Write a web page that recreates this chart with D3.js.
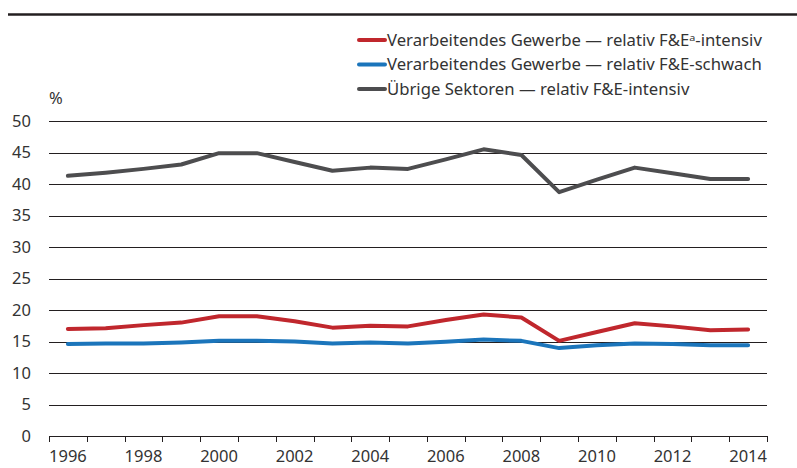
<!DOCTYPE html>
<html>
<head>
<meta charset="utf-8">
<script src="https://cdn.jsdelivr.net/npm/d3@7"></script>
<style>
  body { margin: 0; background: #fff; }
  svg { display: block; font-family: "Source Sans Pro", "Noto Sans", sans-serif; }
</style>
</head>
<body>
<svg id="chart" width="797" height="468"></svg>
<script>
const years = d3.range(1996, 2015);
const yTicks = [0, 5, 10, 15, 20, 25, 30, 35, 40, 45, 50];
const xLabels = [1996, 1998, 2000, 2002, 2004, 2006, 2008, 2010, 2012, 2014];

const seriesNames = [
  "Verarbeitendes Gewerbe — relativ F&Eᵃ-intensiv",
  "Verarbeitendes Gewerbe — relativ F&E-schwach",
  "Übrige Sektoren — relativ F&E-intensiv"
];
const redValues = [17.0, 17.1, 17.6, 18.0, 19.0, 19.0, 18.2, 17.2, 17.5, 17.4, 18.4, 19.3, 18.8, 15.1, 16.5, 17.9, 17.4, 16.8, 16.9];
const blueValues = [14.6, 14.7, 14.7, 14.85, 15.1, 15.1, 15.0, 14.7, 14.85, 14.7, 14.95, 15.3, 15.1, 13.95, 14.4, 14.7, 14.6, 14.4, 14.4];
const greyValues = [41.3, 41.8, 42.4, 43.1, 44.9, 44.9, 43.5, 42.1, 42.6, 42.4, 43.9, 45.5, 44.6, 38.7, 40.7, 42.6, 41.7, 40.8, 40.8];
const colors = ["#c0272d", "#1b75bb", "#4d4d4f"];

const svg = d3.select("#chart");
const plotLeft = 49, plotRight = 767, plotTop = 121, plotBottom = 436;

// top rule
svg.append("line")
  .attr("x1", 8).attr("x2", 797)
  .attr("y1", 14.5).attr("y2", 14.5)
  .attr("stroke", "#231f20").attr("stroke-width", 2.5);

const x = d3.scaleBand().domain(years).range([plotLeft, plotRight]);
const y = d3.scaleLinear().domain([0, 50]).range([plotBottom, plotTop]);

// gridlines
svg.append("g")
  .selectAll("line")
  .data(yTicks.filter(d => d > 0))
  .join("line")
  .attr("x1", plotLeft).attr("x2", plotRight)
  .attr("y1", d => Math.round(y(d)) + 0.5)
  .attr("y2", d => Math.round(y(d)) + 0.5)
  .attr("stroke", "#231f20").attr("stroke-width", 1);

// y labels
svg.append("g")
  .selectAll("text")
  .data(yTicks)
  .join("text")
  .attr("x", 31)
  .attr("y", d => y(d))
  .attr("dy", "0.35em")
  .attr("text-anchor", "end")
  .attr("fill", "#333")
  .attr("font-size", 16.5)
  .text(d => d);

svg.append("text")
  .attr("x", 49).attr("y", 104)
  .attr("fill", "#333").attr("font-size", 16.5)
  .text("%");

// x axis
const bounds = years.map(d => x(d)).concat([plotRight]);
const xAxis = svg.append("g");
xAxis.append("line")
  .attr("x1", plotLeft).attr("x2", plotRight)
  .attr("y1", plotBottom + 0.5).attr("y2", plotBottom + 0.5)
  .attr("stroke", "#231f20");
xAxis.selectAll("line.tick")
  .data(bounds)
  .join("line")
  .attr("class", "tick")
  .attr("x1", d => Math.round(d) + 0.5).attr("x2", d => Math.round(d) + 0.5)
  .attr("y1", plotBottom).attr("y2", plotBottom + 6)
  .attr("stroke", "#231f20");
xAxis.selectAll("text")
  .data(xLabels)
  .join("text")
  .attr("x", d => x(d) + x.bandwidth() / 2)
  .attr("y", 462)
  .attr("text-anchor", "middle")
  .attr("fill", "#333")
  .attr("font-size", 16.5)
  .text(d => d);

// lines
const line = d3.line()
  .x((d, i) => x(years[i]) + x.bandwidth() / 2)
  .y(d => y(d));

[redValues, blueValues, greyValues].forEach((vals, i) => {
  svg.append("path")
    .datum(vals)
    .attr("d", line)
    .attr("fill", "none")
    .attr("stroke", colors[i])
    .attr("stroke-width", 4)
    .attr("stroke-linecap", "round")
    .attr("stroke-linejoin", "round");
});

// legend
const legend = svg.append("g");
seriesNames.forEach((name, i) => {
  const ly = 40 + i * 24.5;
  legend.append("line")
    .attr("x1", 359).attr("x2", 385)
    .attr("y1", ly).attr("y2", ly)
    .attr("stroke", colors[i]).attr("stroke-width", 4)
    .attr("stroke-linecap", "round");
  legend.append("text")
    .attr("x", 387).attr("y", ly)
    .attr("dy", "0.35em")
    .attr("fill", "#333")
    .attr("font-size", 16.7)
    .text(name);
});
</script>
</body>
</html>
